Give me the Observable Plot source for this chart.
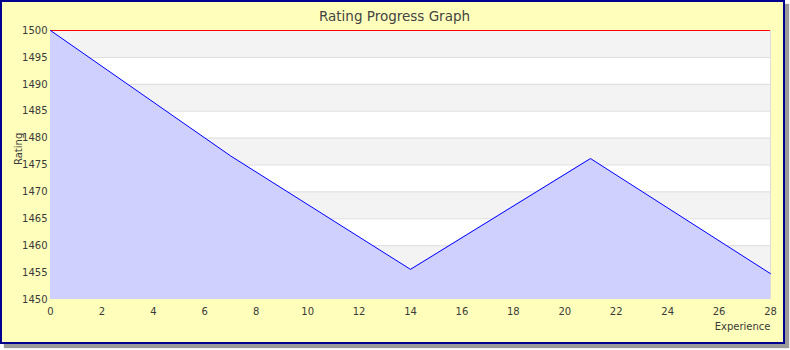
<!DOCTYPE html>
<html>
<head>
<meta charset="utf-8">
<script src="https://cdn.jsdelivr.net/npm/d3@7"></script>
<script src="https://cdn.jsdelivr.net/npm/@observablehq/plot@0.6"></script>
<style>
  html, body { margin: 0; padding: 0; background: #ffffff; }
  #wrap { position: relative; width: 790px; height: 350px; }
  #frame {
    position: absolute; left: 0; top: 0;
    width: 781px; height: 340px;
    border: 2px solid #000090;
    background: #ffffbb;
    box-shadow: 4px 4px 1px #9a9a9a;
  }
  #chart { position: absolute; left: 0; top: 0; }
  #chart svg { background: transparent; }
</style>
</head>
<body>
<div id="wrap">
  <div id="frame"></div>
  <div id="chart"></div>
</div>
<script>
const title = "Rating Progress Graph";
const xLabel = "Experience";
const yLabel = "Rating";
const experience = [0, 7, 14, 21, 28];
const rating = [1500, 1476.7, 1455.6, 1476.2, 1454.8];
const xTicks = [0, 2, 4, 6, 8, 10, 12, 14, 16, 18, 20, 22, 24, 26, 28];
const yTicks = [1450, 1455, 1460, 1465, 1470, 1475, 1480, 1485, 1490, 1495, 1500];

const data = experience.map((x, i) => ({x, y: rating[i]}));
const bands = yTicks.slice(0, -1)
  .map((v, i) => ({y1: v, y2: yTicks[i + 1], odd: (yTicks.length - 2 - i) % 2 === 0}))
  .filter(d => d.odd);
const gridLines = yTicks.slice(1, -1);
const xMin = xTicks[0], xMax = xTicks[xTicks.length - 1];
const yMin = yTicks[0], yMax = yTicks[yTicks.length - 1];

const plot = Plot.plot({
  width: 790,
  height: 350,
  marginLeft: 50,
  marginRight: 20,
  marginTop: 30,
  marginBottom: 51,
  style: {background: "transparent", fontFamily: "DejaVu Sans", fontSize: "10px", color: "#3a3a3a"},
  x: {domain: [xMin, xMax], label: null},
  y: {domain: [yMin, yMax], label: null},
  marks: [
    Plot.rect([{}], {x1: xMin, x2: xMax, y1: yMin, y2: yMax, fill: "#ffffff"}),
    Plot.rect(bands, {x1: xMin, x2: xMax, y1: "y1", y2: "y2", fill: "#f3f3f3"}),
    Plot.ruleY(gridLines, {stroke: "#dddddd", strokeWidth: 1}),
    Plot.ruleX([xMax], {y1: yMin, y2: yMax, stroke: "#dddddd"}),
    Plot.areaY(data, {x: "x", y1: yMin, y2: "y", fill: "#d0d0ff"}),
    Plot.ruleY([yMax], {stroke: "#ff0000", strokeWidth: 1}),
    Plot.lineY(data, {x: "x", y: "y", stroke: "#0000ff", strokeWidth: 1}),
    Plot.axisX({ticks: xTicks, tickFormat: "d", tickSize: 0, tickPadding: 8, label: null, fontSize: 10}),
    Plot.axisY({ticks: yTicks, tickFormat: "d", tickSize: 0, tickPadding: 3, label: null, fontSize: 10}),
    Plot.text([title], {frameAnchor: "top", dy: -19, dx: -16, fontSize: 13.5, fill: "#444"}),
    Plot.text([xLabel], {frameAnchor: "bottom-right", dy: 30, textAnchor: "end", fontSize: 10, fill: "#3a3a3a"}),
    Plot.text([yLabel], {frameAnchor: "left", dx: -32, rotate: -90, fontSize: 10, fill: "#3a3a3a"})
  ]
});
document.getElementById("chart").appendChild(plot);
</script>
</body>
</html>
